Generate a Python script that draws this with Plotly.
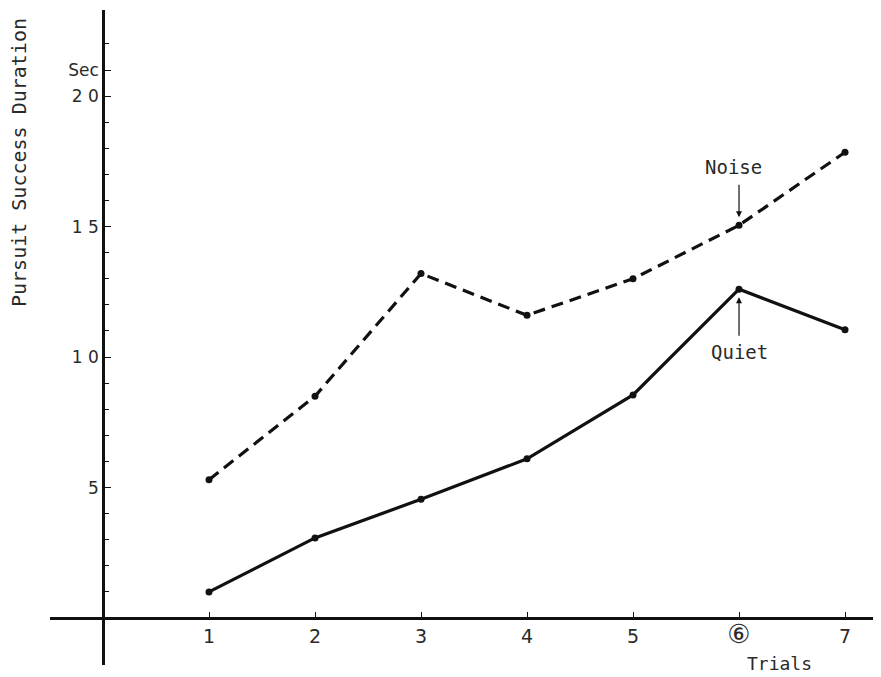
import plotly.graph_objects as go

trials = [1, 2, 3, 4, 5, 6, 7]
noise = [5.3, 8.5, 13.2, 11.6, 13.0, 15.05, 17.85]
quiet = [1.0, 3.07, 4.55, 6.1, 8.55, 12.6, 11.05]

x_tickvals = [1, 2, 3, 4, 5, 6, 7]
x_ticktext = ["1", "2", "3", "4", "5", "<span style='font-size:26px'>⑥</span>", "7"]
y_tickvals = [5, 10, 15, 20, 21]
y_ticktext = ["5", "1 0", "1 5", "2 0", "Sec"]
y_minor = list(range(1, 23))

X_RANGE = [-0.5, 7.33]
Y_RANGE = [-1.8, 23.3]

FONT = "DejaVu Sans"
MONO = "DejaVu Sans Mono"
INK = "#111111"
TXT = "#2a2a2a"

fig = go.Figure()
fig.add_trace(go.Scatter(
    x=trials, y=noise, mode="lines+markers", name="Noise",
    line=dict(color=INK, width=3.2, dash="12px,7px"),
    marker=dict(color=INK, size=7),
))
fig.add_trace(go.Scatter(
    x=trials, y=quiet, mode="lines+markers", name="Quiet",
    line=dict(color=INK, width=3.2),
    marker=dict(color=INK, size=7),
))

xpos = (0 - Y_RANGE[0]) / (Y_RANGE[1] - Y_RANGE[0])
ypos = (0 - X_RANGE[0]) / (X_RANGE[1] - X_RANGE[0])

# page body has an 8px margin, so the figure is offset by 8px
fig.update_layout(
    width=873, height=669,
    margin=dict(l=42, r=1, t=2, b=12, autoexpand=False),
    paper_bgcolor="white", plot_bgcolor="white",
    showlegend=False,
    font=dict(family=FONT, color=TXT, size=15),
    xaxis=dict(
        range=X_RANGE, anchor="free", position=xpos, automargin=False,
        showline=True, linecolor=INK, linewidth=2.5,
        showgrid=False, zeroline=False,
        tickmode="array", tickvals=x_tickvals, ticktext=x_ticktext,
        ticks="inside", ticklen=5, tickwidth=1, tickcolor=INK,
        tickfont=dict(family=FONT, size=19, color=TXT),
    ),
    yaxis=dict(
        range=Y_RANGE, anchor="free", position=ypos, automargin=False,
        showline=True, linecolor=INK, linewidth=2.5,
        showgrid=False, zeroline=False,
        tickmode="array", tickvals=y_tickvals, ticktext=y_ticktext,
        ticks="inside", ticklen=6, tickwidth=1.2, tickcolor=INK,
        tickfont=dict(family=FONT, size=17, color=TXT),
        minor=dict(tickvals=y_minor, ticks="inside", ticklen=4,
                   tickwidth=1, tickcolor=INK, showgrid=False),
    ),
)

# axis titles
fig.add_annotation(
    text="Pursuit Success Duration", xref="paper", yref="paper",
    x=(19 - 50) / 830, y=(665 - 163) / 655, textangle=-90,
    xanchor="center", yanchor="middle",
    showarrow=False, font=dict(family=MONO, size=20, color=TXT),
)
fig.add_annotation(
    text="Trials", xref="paper", yref="paper",
    x=(779 - 50) / 830, y=(665 - 663) / 655,
    xanchor="center", yanchor="middle",
    showarrow=False, font=dict(family=MONO, size=18, color=TXT),
)

# series labels with arrows
fig.add_annotation(
    x=trials[5], y=noise[5], text="", showarrow=True,
    ax=0, ay=-42, standoff=8, arrowhead=2, arrowsize=1,
    arrowwidth=1.2, arrowcolor=INK,
)
fig.add_annotation(
    x=trials[5], y=noise[5], text="Noise", showarrow=False,
    yshift=58, xshift=-6, font=dict(family=MONO, size=19, color=TXT),
)
fig.add_annotation(
    x=trials[5], y=quiet[5], text="", showarrow=True,
    ax=0, ay=48, standoff=8, arrowhead=2, arrowsize=1,
    arrowwidth=1.2, arrowcolor=INK,
)
fig.add_annotation(
    x=trials[5], y=quiet[5], text="Quiet", showarrow=False,
    yshift=-63, xshift=0, font=dict(family=MONO, size=19, color=TXT),
)

fig.write_html("out.html")
